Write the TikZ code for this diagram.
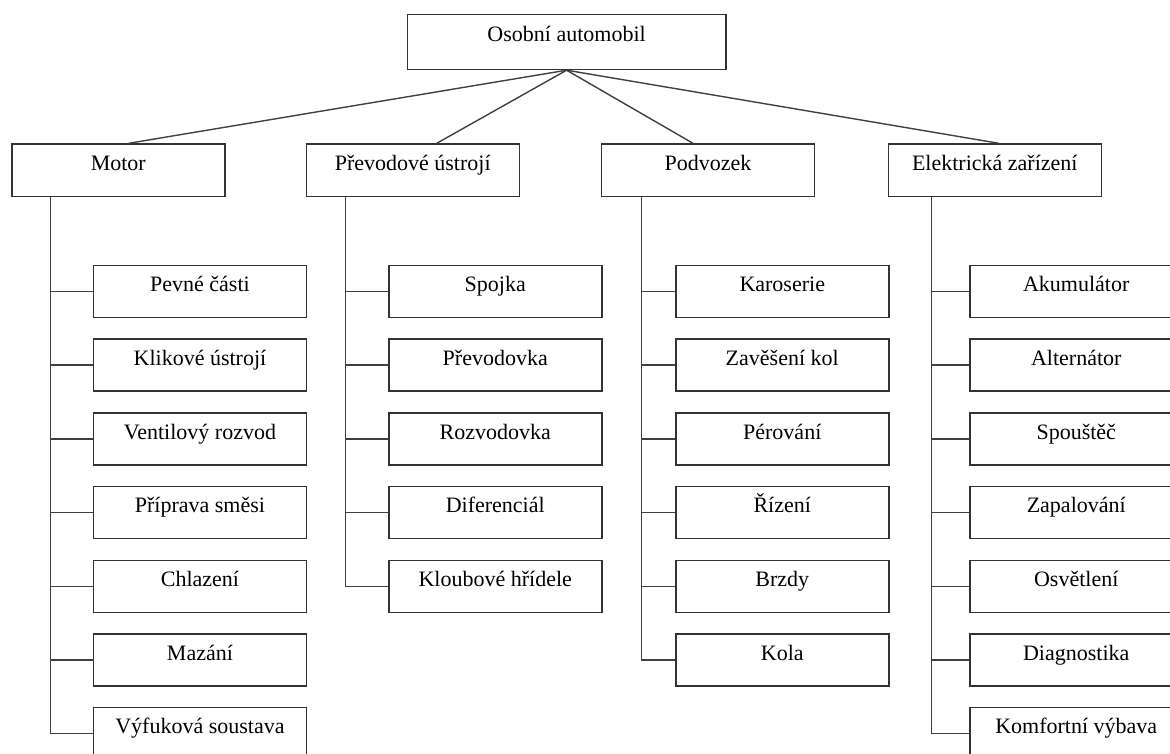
\documentclass[tikz,border=0pt]{standalone}
\usepackage{fontspec}
\setmainfont{Liberation Serif}
\begin{document}
\begin{tikzpicture}[x=1pt,y=-1pt,
  every node/.style={font=\fontsize{22}{26}\selectfont},
  lbl/.style={text height=0.7em,text depth=0.2em,inner sep=0pt},
  topbox/.style={draw=black!80,line width=1.5pt,anchor=north west,minimum width=318.3pt,minimum height=54.7pt,inner sep=0pt,
    label={[lbl,yshift=3.4pt]center:#1}},
  catbox/.style={draw=black!80,line width=1.5pt,anchor=north west,minimum width=213pt,minimum height=52.4pt,inner sep=0pt,
    label={[lbl,yshift=2.2pt]center:#1}},
  itembox/.style={draw=black!80,line width=1.5pt,anchor=north west,minimum width=213pt,minimum height=52pt,inner sep=0pt,
    label={[lbl,yshift=2.2pt]center:#1}},
  conn/.style={draw=black!75,line width=1.4pt}
]
\clip (0,0) rectangle (1170,754);
\fill[white] (0,0) rectangle (1170,754);

% root
\node[topbox={Osobní automobil}] (root) at (406.7,14) {};

% categories
\node[catbox={Motor}] (m) at (11,143.3) {};
\node[catbox={Převodové ústrojí}] (p) at (305.5,143.3) {};
\node[catbox={Podvozek}] (v) at (600.7,143.3) {};
\node[catbox={Elektrická zařízení}] (e) at (887.5,143.3) {};

\draw[conn] (root.south) -- ([xshift=10.5pt]m.north);
\draw[conn] (root.south) -- ([xshift=24pt]p.north);
\draw[conn] (root.south) -- ([xshift=-15pt]v.north);
\draw[conn] (root.south) -- ([xshift=4pt]e.north);

% Motor children
\node[itembox={Pevné části}] (m1) at (92.7,264.7) {};
\node[itembox={Klikové ústrojí}] (m2) at (92.7,338.4) {};
\node[itembox={Ventilový rozvod}] (m3) at (92.7,412.1) {};
\node[itembox={Příprava směsi}] (m4) at (92.7,485.8) {};
\node[itembox={Chlazení}] (m5) at (92.7,559.5) {};
\node[itembox={Mazání}] (m6) at (92.7,633.2) {};
\node[itembox={Výfuková soustava}] (m7) at (92.7,706.9) {};
\foreach \c in {m1,m2,m3,m4,m5,m6,m7}
  \draw[conn] ([xshift=39.7pt]m.south west) |- (\c.west);

% Převodové ústrojí children
\node[itembox={Spojka}] (p1) at (388,264.7) {};
\node[itembox={Převodovka}] (p2) at (388,338.4) {};
\node[itembox={Rozvodovka}] (p3) at (388,412.1) {};
\node[itembox={Diferenciál}] (p4) at (388,485.8) {};
\node[itembox={Kloubové hřídele}] (p5) at (388,559.5) {};
\foreach \c in {p1,p2,p3,p4,p5}
  \draw[conn] ([xshift=40.2pt]p.south west) |- (\c.west);

% Podvozek children
\node[itembox={Karoserie}] (v1) at (675,264.7) {};
\node[itembox={Zavěšení kol}] (v2) at (675,338.4) {};
\node[itembox={Pérování}] (v3) at (675,412.1) {};
\node[itembox={Řízení}] (v4) at (675,485.8) {};
\node[itembox={Brzdy}] (v5) at (675,559.5) {};
\node[itembox={Kola}] (v6) at (675,633.2) {};
\foreach \c in {v1,v2,v3,v4,v5,v6}
  \draw[conn] ([xshift=40.8pt]v.south west) |- (\c.west);

% Elektrická zařízení children
\node[itembox={Akumulátor}] (e1) at (969,264.7) {};
\node[itembox={Alternátor}] (e2) at (969,338.4) {};
\node[itembox={Spouštěč}] (e3) at (969,412.1) {};
\node[itembox={Zapalování}] (e4) at (969,485.8) {};
\node[itembox={Osvětlení}] (e5) at (969,559.5) {};
\node[itembox={Diagnostika}] (e6) at (969,633.2) {};
\node[itembox={Komfortní výbava}] (e7) at (969,706.9) {};
\foreach \c in {e1,e2,e3,e4,e5,e6,e7}
  \draw[conn] ([xshift=44pt]e.south west) |- (\c.west);
\end{tikzpicture}
\end{document}
